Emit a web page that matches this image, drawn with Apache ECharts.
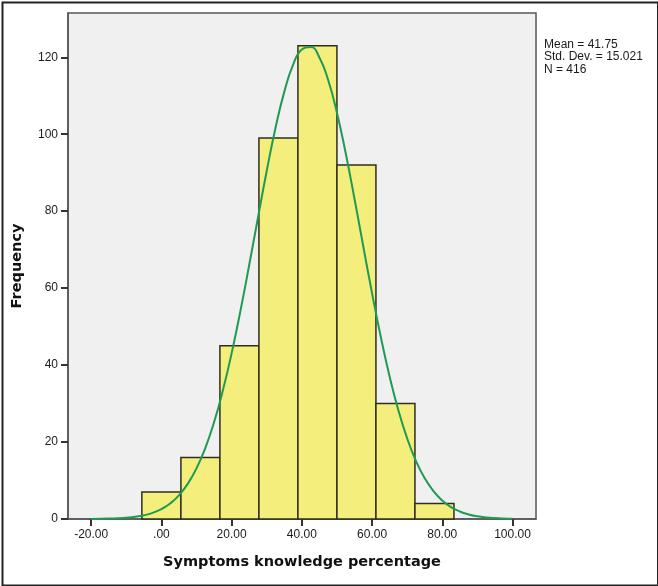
<!DOCTYPE html>
<html>
<head>
<meta charset="utf-8">
<script src="https://cdn.jsdelivr.net/npm/echarts@6/dist/echarts.min.js"></script>
<style>
html,body{margin:0;padding:0;background:#fff;}
#chart{width:658px;height:586px;}
</style>
</head>
<body>
<div id="chart"></div>
<script>
// Histogram bins (Symptoms knowledge percentage)
var binLower = [-5.56, 5.56, 16.67, 27.78, 38.89, 50.00, 61.11, 72.22];
var binUpper = [5.56, 16.67, 27.78, 38.89, 50.00, 61.11, 72.22, 83.33];
var frequency = [7, 16, 45, 99, 123, 92, 30, 4];

// Normal curve
var curveX = [-20, -15, -12.5, -10, -7.5, -5, -2.5, 0, 2.5, 5, 7.5, 10, 12.5, 15, 17.5, 20, 22.5, 25, 27.5, 30, 32.5, 35, 37.5, 40, 42.5, 45, 47.5, 50, 52.5, 55, 57.5, 60, 62.5, 65, 67.5, 70, 72.5, 75, 77.5, 80, 82.5, 85, 87.5, 90, 92.5, 95, 97.5, 100];
var curveY = [0.03, 0.10, 0.18, 0.33, 0.57, 0.97, 1.60, 2.58, 4.04, 6.16, 9.12, 13.15, 18.44, 25.15, 33.37, 43.04, 54.02, 65.94, 78.30, 90.43, 101.6, 111.0, 118.0, 122.0, 122.65, 119.96, 114.1, 105.6, 95.06, 83.23, 70.87, 58.70, 47.30, 37.06, 28.26, 20.95, 15.11, 10.60, 7.23, 4.80, 3.10, 1.95, 1.19, 0.71, 0.41, 0.23, 0.125, 0.067];

var xTicks = [-20, 0, 20, 40, 60, 80, 100];
var yTicks = [0, 20, 40, 60, 80, 100, 120];
var statsLines = ['Mean = 41.75', 'Std. Dev. = 15.021', 'N = 416'];

var barData = binLower.map(function (lo, i) { return [lo, binUpper[i], frequency[i]]; });
var curveData = curveX.map(function (x, i) { return [x, curveY[i]]; });

var chart = echarts.init(document.getElementById('chart'), null, {renderer: 'canvas'});
var labelFont = 'Liberation Sans, Arial, sans-serif';
var titleFont = 'DejaVu Sans, Verdana, sans-serif';

chart.setOption({
  backgroundColor: '#ffffff',
  animation: false,
  grid: {
    left: 68, right: 122, top: 13, bottom: 67,
    show: true, backgroundColor: '#f0f0f0', borderColor: '#555555', borderWidth: 1.5
  },
  xAxis: {
    type: 'value', min: -26.6, max: 106.7,
    name: 'Symptoms knowledge percentage',
    nameLocation: 'middle', nameGap: 36,
    nameTextStyle: {fontFamily: titleFont, fontWeight: 'bold', fontSize: 14.5, color: '#111'},
    splitLine: {show: false},
    axisLine: {show: true, onZero: false, lineStyle: {color: '#555555', width: 1.5}},
    axisTick: {show: true, length: 7, lineStyle: {color: '#333', width: 2}, customValues: xTicks},
    axisLabel: {
      customValues: xTicks, margin: 10, fontFamily: labelFont, fontSize: 12, color: '#1a1a1a',
      formatter: function (v) { return v === 0 ? '.00' : v.toFixed(2); }
    }
  },
  yAxis: {
    type: 'value', min: 0, max: 131.5,
    name: 'Frequency', nameLocation: 'middle', nameGap: 43, nameRotate: 90,
    nameTextStyle: {fontFamily: titleFont, fontWeight: 'bold', fontSize: 14.5, color: '#111'},
    splitLine: {show: false},
    axisLine: {show: true, onZero: false, lineStyle: {color: '#555555', width: 1.5}},
    axisTick: {show: true, length: 7, lineStyle: {color: '#333', width: 2}, customValues: yTicks},
    axisLabel: {customValues: yTicks, margin: 10, fontFamily: labelFont, fontSize: 12, color: '#1a1a1a'}
  },
  series: [
    {
      type: 'custom',
      data: barData,
      encode: {x: [0, 1], y: 2},
      renderItem: function (params, api) {
        var p0 = api.coord([api.value(0), api.value(2)]);
        var p1 = api.coord([api.value(1), 0]);
        return {
          type: 'rect',
          shape: {x: p0[0], y: p0[1], width: p1[0] - p0[0], height: p1[1] - p0[1]},
          style: {fill: '#f4ef7c', stroke: '#2e2e1e', lineWidth: 1.5}
        };
      },
      z: 2
    },
    {
      type: 'line',
      data: curveData,
      smooth: true,
      showSymbol: false,
      lineStyle: {color: '#1f9a55', width: 2},
      z: 3
    }
  ],
  graphic: [
    {
      type: 'text', left: 544, top: 38,
      style: {text: statsLines.join('\n'), font: '12px ' + labelFont, fill: '#1a1a1a', lineHeight: 12.5}
    },
    {
      type: 'rect', left: 0, top: 0,
      shape: {x: 1, y: 1, width: 655.5, height: 583},
      style: {fill: 'none', stroke: '#222', lineWidth: 2}
    }
  ]
});
</script>
</body>
</html>
